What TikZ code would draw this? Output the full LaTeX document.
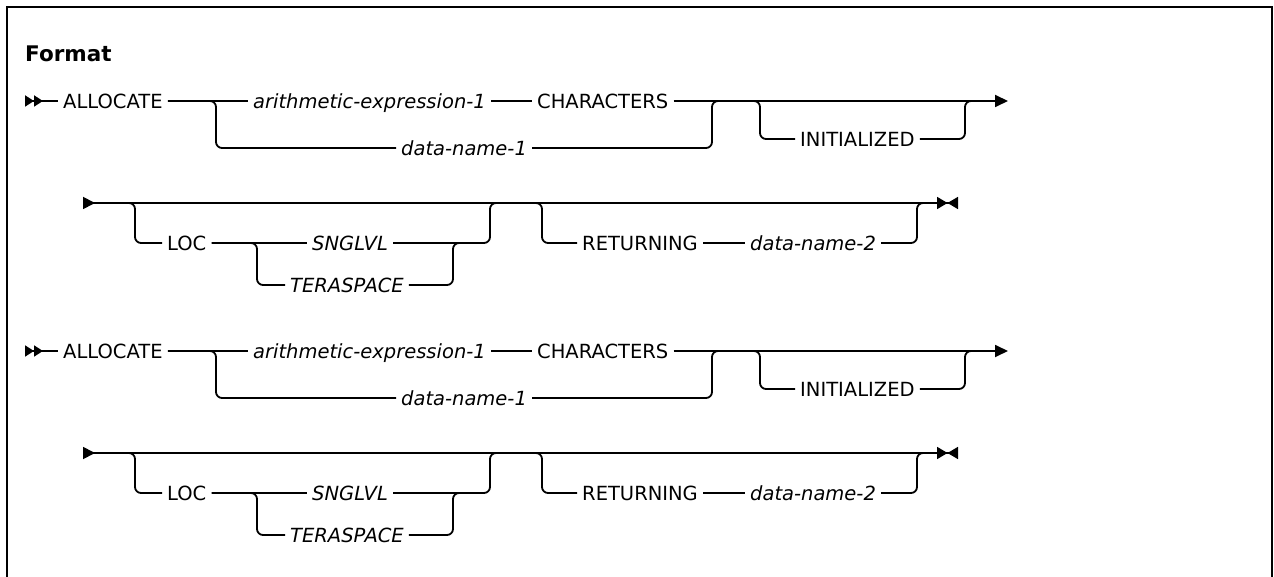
\documentclass[tikz,border=0pt]{standalone}
\usepackage{fontspec}
\setmainfont{DejaVu Sans}
\usepackage{tikz}
\usetikzlibrary{arrows.meta}
\tikzset{
  rail/.style   = {line width=1.8pt, rounded corners=6pt},
  kw/.style     = {font=\fontsize{19.5}{22}\selectfont, anchor=west,
                   inner xsep=5pt, inner ysep=0pt, text height=14.2pt, text depth=0pt},
  var/.style    = {kw, font=\fontsize{19.5}{22}\selectfont\itshape},
  title/.style  = {font=\fontsize{21.5}{24}\selectfont\bfseries, inner sep=0pt, anchor=base west},
  frame/.style  = {line width=2.4pt},
  begin2/.style = {{Triangle[reversed,length=9pt,width=11pt,sep=0pt]Triangle[reversed,length=9pt,width=11pt]}-},
  endA/.style   = {-{Triangle[length=13pt,width=12pt]}},
  contd/.style  = {{Triangle[reversed,length=12pt,width=12pt]}-{Triangle[length=10.5pt,width=12pt,sep=0pt]Triangle[reversed,length=10.5pt,width=12pt]}},
}
\begin{document}
\begin{tikzpicture}[x=1pt, y=-1pt]
  \useasboundingbox (0,0) rectangle (1274,577);
  \draw[frame] (7,577) -- (7,7) -- (1272,7) -- (1272,577);
  \node[title] (format) at (25,62) {Format};
  \foreach \p/\dy in {u/0, l/250} {
  \begin{scope}[yshift=-\dy pt]
    % first line of the statement
    \coordinate (\p-start) at (25,101);
    \node[kw]  (\p-alloc) at (58,101)  {ALLOCATE};
    \node[var] (\p-arith) at (248,101) {arithmetic-expression-1};
    \node[kw]  (\p-chars) at (532,101) {CHARACTERS};
    \node[var] (\p-dn1)   at (396,148) {data-name-1};
    \node[kw]  (\p-init)  at (795,139) {INITIALIZED};
    \coordinate (\p-s1) at (216,101);
    \coordinate (\p-j1) at (712,101);
    \coordinate (\p-s2) at (760,101);
    \coordinate (\p-j2) at (965,101);
    \coordinate (\p-k2) at (985,101);
    \coordinate (\p-end) at (1008,101);
    \draw[rail, begin2] (\p-start) -- (\p-alloc.west);
    \draw[rail] (\p-alloc.east) -- (\p-arith.west);
    \draw[rail] (\p-arith.east) -- (\p-chars.west);
    \draw[rail, endA] (\p-chars.east) -- (\p-end);
    \draw[rail] (\p-alloc.east) -- (\p-s1) |- (\p-dn1.west);
    \draw[rail] (\p-dn1.east) -| (\p-j1) -- (\p-s2) |- (\p-init.west);
    \draw[rail] (\p-init.east) -| (\p-j2) -- (\p-k2);
    % continuation line
    \coordinate (\p-start2) at (83,203);
    \coordinate (\p-s3) at (135,203);
    \coordinate (\p-j3) at (490,203);
    \coordinate (\p-s4) at (257,243);
    \coordinate (\p-j4) at (453,243);
    \coordinate (\p-j4r) at (470,243);
    \coordinate (\p-s5) at (542,203);
    \coordinate (\p-j5) at (917,203);
    \coordinate (\p-k5) at (930,203);
    \coordinate (\p-stop) at (958,203);
    \node[kw]  (\p-loc)  at (162,243) {LOC};
    \node[var] (\p-sng)  at (307,243) {SNGLVL};
    \node[var] (\p-tera) at (285,285) {TERASPACE};
    \node[kw]  (\p-ret)  at (577,243) {RETURNING};
    \node[var] (\p-dn2)  at (745,243) {data-name-2};
    \draw[rail, contd] (\p-start2) -- (\p-stop);
    \draw[rail] (\p-start2) -- (\p-s3) |- (\p-loc.west);
    \draw[rail] (\p-loc.east) -- (\p-sng.west);
    \draw[rail] (\p-loc.east) -- (\p-s4) |- (\p-tera.west);
    \draw[rail] (\p-tera.east) -| (\p-j4) -- (\p-j4r);
    \draw[rail] (\p-sng.east) -| (\p-j3) -- (\p-s5) |- (\p-ret.west);
    \draw[rail] (\p-ret.east) -- (\p-dn2.west);
    \draw[rail] (\p-dn2.east) -| (\p-j5) -- (\p-k5);
  \end{scope}
  }
\end{tikzpicture}
\end{document}
